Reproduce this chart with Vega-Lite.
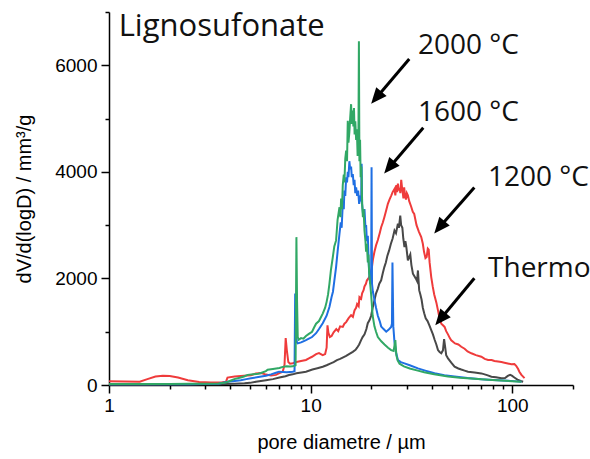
{
  "$schema": "https://vega.github.io/schema/vega-lite/v6.json",
  "width": 464,
  "height": 373,
  "autosize": "none",
  "padding": {"left": 109, "top": 12, "right": 17, "bottom": 74},
  "background": "white",
  "config": {
    "view": {"stroke": null},
    "axis": {
      "grid": false,
      "domainColor": "black",
      "tickColor": "black",
      "labelColor": "black",
      "titleColor": "black",
      "labelFont": "Liberation Sans",
      "titleFont": "Liberation Sans",
      "labelFontSize": 19,
      "titleFontSize": 20,
      "titleFontWeight": "normal",
      "domainWidth": 1.5,
      "tickWidth": 1.5
    }
  },
  "datasets": {
    "t1200": [
      {"x":1,"y":70},{"x":1.2,"y":65},{"x":1.42,"y":62},{"x":1.55,"y":110},{"x":1.7,"y":160},{"x":1.85,"y":175},{"x":2.0,"y":170},{"x":2.2,"y":140},{"x":2.46,"y":90},{"x":2.8,"y":55},{"x":3.2,"y":45},{"x":3.6,"y":48},{"x":3.8,"y":60},{"x":3.87,"y":140},{"x":4.2,"y":160},{"x":4.67,"y":175},{"x":5.06,"y":185},{"x":5.35,"y":215},{"x":5.7,"y":225},{"x":6.0,"y":195},{"x":6.36,"y":180},{"x":6.73,"y":190},{"x":7.0,"y":225},{"x":7.27,"y":250},{"x":7.42,"y":380},{"x":7.52,"y":880},{"x":7.62,"y":650},{"x":7.75,"y":430},{"x":7.9,"y":400},{"x":8.15,"y":410},{"x":8.5,"y":430},{"x":8.96,"y":450},{"x":9.48,"y":470},{"x":9.8,"y":500},{"x":10.16,"y":530},{"x":10.64,"y":580},{"x":11.0,"y":600},{"x":11.48,"y":560},{"x":11.8,"y":580},{"x":12.0,"y":700},{"x":12.12,"y":1120},{"x":12.25,"y":980},{"x":12.45,"y":900},{"x":12.7,"y":920},{"x":13.0,"y":990},{"x":13.4,"y":1050},{"x":13.7,"y":1010},{"x":14.0,"y":1100},{"x":14.43,"y":1090},{"x":14.7,"y":1150},{"x":15.0,"y":1180},{"x":15.4,"y":1250},{"x":15.87,"y":1310},{"x":16.2,"y":1280},{"x":16.5,"y":1400},{"x":16.8,"y":1450},{"x":17.0,"y":1520},{"x":17.3,"y":1480},{"x":17.46,"y":1650},{"x":17.8,"y":1620},{"x":18.0,"y":1720},{"x":18.3,"y":1780},{"x":18.49,"y":1850},{"x":18.8,"y":1900},{"x":19.0,"y":1960},{"x":19.5,"y":2020},{"x":19.95,"y":2100},{"x":20.35,"y":2350},{"x":20.72,"y":2500},{"x":21.1,"y":2620},{"x":21.54,"y":2720},{"x":22.0,"y":2850},{"x":22.37,"y":2960},{"x":22.8,"y":3050},{"x":23.2,"y":3150},{"x":23.7,"y":3280},{"x":24.15,"y":3400},{"x":24.6,"y":3480},{"x":25.07,"y":3550},{"x":25.5,"y":3620},{"x":26.05,"y":3680},{"x":26.3,"y":3560},{"x":26.6,"y":3750},{"x":26.85,"y":3620},{"x":27.08,"y":3780},{"x":27.35,"y":3650},{"x":27.6,"y":3700},{"x":27.85,"y":3600},{"x":28.13,"y":3850},{"x":28.4,"y":3700},{"x":28.6,"y":3620},{"x":28.85,"y":3500},{"x":29.09,"y":3710},{"x":29.4,"y":3550},{"x":29.7,"y":3480},{"x":30.0,"y":3600},{"x":30.35,"y":3560},{"x":30.82,"y":3450},{"x":31.5,"y":3350},{"x":32.1,"y":3250},{"x":32.63,"y":3210},{"x":33.5,"y":3000},{"x":34.4,"y":2880},{"x":35.35,"y":2775},{"x":36.0,"y":2650},{"x":36.5,"y":2500},{"x":37.1,"y":2380},{"x":37.6,"y":2400},{"x":38.1,"y":2560},{"x":38.5,"y":2540},{"x":38.9,"y":2300},{"x":39.63,"y":2026},{"x":40.3,"y":1850},{"x":41.0,"y":1700},{"x":42.0,"y":1550},{"x":42.8,"y":1400},{"x":43.6,"y":1250},{"x":44.45,"y":1150},{"x":45.3,"y":1120},{"x":46.16,"y":1090},{"x":47.0,"y":1010},{"x":47.98,"y":950},{"x":49.0,"y":880},{"x":49.8,"y":840},{"x":52.0,"y":780},{"x":54,"y":760},{"x":55.85,"y":717},{"x":58,"y":680},{"x":60,"y":630},{"x":62.66,"y":595},{"x":66,"y":560},{"x":70.22,"y":530},{"x":73,"y":490},{"x":75.84,"y":468},{"x":79,"y":470},{"x":81.5,"y":450},{"x":85,"y":440},{"x":88.3,"y":430},{"x":91.4,"y":418},{"x":95,"y":405},{"x":99,"y":390},{"x":102.4,"y":393},{"x":104.5,"y":360},{"x":106.9,"y":300},{"x":108.4,"y":250},{"x":111,"y":190},{"x":115,"y":130}
    ],
    "thermo": [
      {"x":1,"y":5},{"x":1.5,"y":5},{"x":2,"y":8},{"x":2.5,"y":10},{"x":3,"y":12},{"x":3.5,"y":15},{"x":3.8,"y":20},{"x":4.2,"y":25},{"x":4.7,"y":32},{"x":5.0,"y":40},{"x":5.35,"y":60},{"x":6.0,"y":90},{"x":6.5,"y":110},{"x":7.0,"y":140},{"x":7.5,"y":165},{"x":7.81,"y":187},{"x":8.15,"y":200},{"x":8.5,"y":220},{"x":9.0,"y":235},{"x":9.48,"y":250},{"x":10.2,"y":290},{"x":10.8,"y":315},{"x":11.48,"y":343},{"x":12.0,"y":370},{"x":12.5,"y":400},{"x":13.0,"y":430},{"x":13.5,"y":468},{"x":14.0,"y":490},{"x":14.5,"y":520},{"x":15.0,"y":545},{"x":15.5,"y":580},{"x":16.18,"y":623},{"x":16.7,"y":660},{"x":17.0,"y":700},{"x":17.4,"y":760},{"x":17.79,"y":842},{"x":18.1,"y":900},{"x":18.5,"y":950},{"x":18.9,"y":1050},{"x":19.2,"y":1160},{"x":19.6,"y":1220},{"x":19.95,"y":1300},{"x":20.3,"y":1450},{"x":20.72,"y":1590},{"x":21.1,"y":1720},{"x":21.5,"y":1800},{"x":21.9,"y":1900},{"x":22.37,"y":1965},{"x":22.8,"y":2100},{"x":23.2,"y":2213},{"x":23.6,"y":2300},{"x":24.0,"y":2420},{"x":24.5,"y":2526},{"x":25.0,"y":2650},{"x":25.5,"y":2750},{"x":26.05,"y":2900},{"x":26.5,"y":2850},{"x":27.08,"y":3025},{"x":27.4,"y":2950},{"x":27.82,"y":3180},{"x":28.1,"y":3000},{"x":28.5,"y":2950},{"x":28.8,"y":2750},{"x":29.19,"y":2590},{"x":29.5,"y":2700},{"x":29.8,"y":2600},{"x":30.35,"y":2340},{"x":30.8,"y":2400},{"x":31.2,"y":2450},{"x":31.6,"y":2250},{"x":32.15,"y":2090},{"x":32.6,"y":2050},{"x":33.2,"y":2000},{"x":33.7,"y":1950},{"x":34.05,"y":2150},{"x":34.3,"y":1950},{"x":34.53,"y":1780},{"x":35.0,"y":1700},{"x":35.5,"y":1600},{"x":36.0,"y":1450},{"x":36.57,"y":1345},{"x":37.2,"y":1250},{"x":38.0,"y":1200},{"x":38.8,"y":1120},{"x":39.63,"y":1030},{"x":40.4,"y":950},{"x":41.2,"y":850},{"x":42.0,"y":760},{"x":42.8,"y":655},{"x":43.6,"y":620},{"x":44.45,"y":595},{"x":45.3,"y":650},{"x":45.9,"y":860},{"x":46.5,"y":700},{"x":47.0,"y":560},{"x":48,"y":500},{"x":49.8,"y":420},{"x":51.73,"y":343},{"x":54,"y":310},{"x":55.85,"y":290},{"x":58,"y":270},{"x":60.3,"y":250},{"x":65,"y":235},{"x":70.22,"y":218},{"x":75,"y":185},{"x":78.78,"y":156},{"x":83,"y":145},{"x":88.31,"y":125},{"x":92,"y":130},{"x":95,"y":170},{"x":97.5,"y":190},{"x":99.5,"y":175},{"x":102.4,"y":140},{"x":106.9,"y":94},{"x":110,"y":75},{"x":113.2,"y":62}
    ],
    "t1600": [
      {"x":1,"y":12},{"x":1.5,"y":12},{"x":2,"y":14},{"x":2.5,"y":15},{"x":3,"y":18},{"x":3.5,"y":25},{"x":3.87,"y":60},{"x":4.2,"y":75},{"x":4.5,"y":90},{"x":4.8,"y":110},{"x":5.06,"y":125},{"x":5.5,"y":150},{"x":6.0,"y":175},{"x":6.36,"y":200},{"x":6.73,"y":230},{"x":6.97,"y":250},{"x":7.3,"y":245},{"x":7.6,"y":240},{"x":7.9,"y":245},{"x":8.15,"y":250},{"x":8.32,"y":260},{"x":8.38,"y":1715},{"x":8.45,"y":1000},{"x":8.55,"y":800},{"x":8.63,"y":780},{"x":8.96,"y":800},{"x":9.2,"y":820},{"x":9.48,"y":842},{"x":9.8,"y":870},{"x":10.16,"y":900},{"x":10.64,"y":972},{"x":11.0,"y":1050},{"x":11.48,"y":1160},{"x":12.0,"y":1300},{"x":12.39,"y":1465},{"x":12.7,"y":1650},{"x":12.9,"y":1750},{"x":13.1,"y":1950},{"x":13.37,"y":2213},{"x":13.6,"y":2500},{"x":13.9,"y":2840},{"x":14.1,"y":3050},{"x":14.25,"y":2950},{"x":14.43,"y":3400},{"x":14.6,"y":3300},{"x":14.7,"y":3650},{"x":14.85,"y":3550},{"x":15.0,"y":3900},{"x":15.15,"y":3800},{"x":15.28,"y":4000},{"x":15.4,"y":3900},{"x":15.56,"y":4200},{"x":15.7,"y":4050},{"x":15.87,"y":4100},{"x":16.0,"y":3900},{"x":16.18,"y":3960},{"x":16.35,"y":3750},{"x":16.5,"y":3850},{"x":16.65,"y":3600},{"x":16.81,"y":3710},{"x":17.0,"y":3550},{"x":17.2,"y":3650},{"x":17.4,"y":3400},{"x":17.6,"y":3500},{"x":17.8,"y":3450},{"x":17.9,"y":4150},{"x":18.0,"y":3400},{"x":18.2,"y":3200},{"x":18.49,"y":3300},{"x":18.7,"y":2950},{"x":18.84,"y":3000},{"x":19.0,"y":2700},{"x":19.21,"y":2800},{"x":19.4,"y":2300},{"x":19.6,"y":2000},{"x":19.8,"y":1900},{"x":19.95,"y":1950},{"x":20.05,"y":4085},{"x":20.15,"y":1900},{"x":20.35,"y":1750},{"x":20.72,"y":1600},{"x":21.1,"y":1450},{"x":21.54,"y":1300},{"x":22.0,"y":1200},{"x":22.37,"y":1100},{"x":23.0,"y":1050},{"x":23.7,"y":1000},{"x":24.4,"y":1040},{"x":25.07,"y":1090},{"x":25.3,"y":1150},{"x":25.45,"y":2300},{"x":25.7,"y":1100},{"x":26.05,"y":800},{"x":26.57,"y":600},{"x":27.08,"y":470},{"x":28,"y":430},{"x":29.19,"y":405},{"x":31,"y":370},{"x":34.05,"y":312},{"x":37,"y":270},{"x":41.18,"y":220},{"x":46,"y":185},{"x":51.73,"y":160},{"x":60,"y":130},{"x":70.22,"y":106},{"x":80,"y":95},{"x":95.33,"y":80},{"x":105,"y":68},{"x":111,"y":60}
    ],
    "t2000": [
      {"x":1,"y":20},{"x":1.5,"y":18},{"x":2,"y":20},{"x":2.5,"y":22},{"x":3,"y":25},{"x":3.5,"y":30},{"x":3.8,"y":45},{"x":4.0,"y":80},{"x":4.18,"y":110},{"x":4.5,"y":140},{"x":4.67,"y":160},{"x":4.87,"y":190},{"x":5.2,"y":200},{"x":5.5,"y":210},{"x":5.67,"y":225},{"x":6.0,"y":260},{"x":6.12,"y":285},{"x":6.5,"y":300},{"x":7.0,"y":320},{"x":7.27,"y":340},{"x":7.6,"y":350},{"x":7.9,"y":345},{"x":8.15,"y":350},{"x":8.42,"y":370},{"x":8.5,"y":2775},{"x":8.56,"y":1600},{"x":8.63,"y":900},{"x":8.73,"y":850},{"x":8.96,"y":880},{"x":9.2,"y":870},{"x":9.48,"y":920},{"x":9.8,"y":960},{"x":10.16,"y":1000},{"x":10.4,"y":1080},{"x":10.64,"y":1150},{"x":11.0,"y":1200},{"x":11.48,"y":1340},{"x":11.8,"y":1450},{"x":12.0,"y":1560},{"x":12.2,"y":1700},{"x":12.39,"y":1900},{"x":12.6,"y":2150},{"x":12.88,"y":2400},{"x":13.1,"y":2600},{"x":13.37,"y":2713},{"x":13.6,"y":3100},{"x":13.9,"y":3336},{"x":14.05,"y":3150},{"x":14.16,"y":3500},{"x":14.3,"y":3300},{"x":14.43,"y":3750},{"x":14.6,"y":3950},{"x":14.7,"y":3800},{"x":14.85,"y":4250},{"x":15.0,"y":4400},{"x":15.15,"y":4200},{"x":15.28,"y":4960},{"x":15.4,"y":4550},{"x":15.56,"y":4750},{"x":15.7,"y":5000},{"x":15.87,"y":5270},{"x":16.0,"y":4900},{"x":16.15,"y":5150},{"x":16.29,"y":4850},{"x":16.4,"y":5200},{"x":16.52,"y":4700},{"x":16.65,"y":4950},{"x":16.81,"y":4600},{"x":16.95,"y":4800},{"x":17.1,"y":4300},{"x":17.25,"y":4500},{"x":17.35,"y":6450},{"x":17.45,"y":4200},{"x":17.58,"y":4600},{"x":17.7,"y":3900},{"x":17.85,"y":4100},{"x":18.0,"y":3400},{"x":18.16,"y":3150},{"x":18.3,"y":3300},{"x":18.49,"y":2900},{"x":18.7,"y":2700},{"x":18.84,"y":2500},{"x":19.0,"y":2650},{"x":19.21,"y":2300},{"x":19.35,"y":2450},{"x":19.5,"y":2100},{"x":19.73,"y":1900},{"x":19.95,"y":1700},{"x":20.3,"y":1300},{"x":20.72,"y":1100},{"x":21.1,"y":1000},{"x":21.54,"y":900},{"x":22.4,"y":820},{"x":23.24,"y":760},{"x":24.2,"y":700},{"x":25.07,"y":655},{"x":25.8,"y":640},{"x":26.3,"y":842},{"x":26.6,"y":560},{"x":27.0,"y":460},{"x":27.6,"y":400},{"x":29.0,"y":350},{"x":31.0,"y":310},{"x":34,"y":270},{"x":36.57,"y":240},{"x":41,"y":200},{"x":47.98,"y":160},{"x":55,"y":135},{"x":65,"y":115},{"x":75.84,"y":100},{"x":88,"y":85},{"x":100,"y":70},{"x":110.9,"y":60}
    ],
    "arrows": [
      {"label":"2000 °C","x0":30.83,"y0":6118,"x1":21.49,"y1":5418,"tx":19.95,"ty":5276},
      {"label":"1600 °C","x0":36.18,"y0":4827,"x1":24.94,"y1":4111,"tx":23.15,"ty":3967},
      {"label":"1200 °C","x0":64.82,"y0":3705,"x1":44.18,"y1":2988,"tx":41.02,"ty":2844},
      {"label":"Thermo","x0":64.82,"y0":2002,"x1":44.7,"y1":1267,"tx":41.5,"ty":1123}
    ],
    "notes": [
      {"text":"2000 °C","x":34.04,"y":6212},
      {"text":"1600 °C","x":34.04,"y":4958},
      {"text":"1200 °C","x":75.8,"y":3742},
      {"text":"Thermo","x":75.8,"y":2026}
    ],
    "title": [
      {"text":"Lignosufonate","x":1.117,"y":6549}
    ]
  },
  "layer": [
    {
      "data": {"name": "t1200"},
      "mark": {"type": "line", "color": "#ef3b3b", "strokeWidth": 2},
      "encoding": {
        "x": {"field": "x", "type": "quantitative",
          "scale": {"type": "log", "domain": [1, 200], "nice": false},
          "axis": {
            "title": "pore diametre / µm",
            "values": [1,2,3,4,5,6,7,8,9,10,20,30,40,50,60,70,80,90,100,200],
            "format": "d",
            "labelExpr": "(datum.value == 1 || datum.value == 10 || datum.value == 100) ? datum.label : ''",
            "tickSize": {"condition": {"test": "datum.value == 1 || datum.value == 10 || datum.value == 100", "value": 8}, "value": 4},
            "labelPadding": 3,
            "titlePadding": 17,
            "labelFlush": false,
            "labelOverlap": false
          }},
        "y": {"field": "y", "type": "quantitative",
          "scale": {"domain": [0, 7000], "nice": false, "zero": false},
          "axis": {
            "title": "dV/d(logD) / mm³/g",
            "values": [0,1000,2000,3000,4000,5000,6000,7000],
            "format": "d",
            "labelExpr": "datum.value % 2000 === 0 ? datum.label : ''",
            "tickSize": {"condition": {"test": "datum.value % 2000 === 0", "value": 8}, "value": 4},
            "labelPadding": 4,
            "titlePadding": 20,
            "labelFlush": false,
            "labelOverlap": false
          }}
      }
    },
    {
      "data": {"name": "thermo"},
      "mark": {"type": "line", "color": "#484848", "strokeWidth": 2},
      "encoding": {
        "x": {"field": "x", "type": "quantitative", "scale": {"type": "log", "domain": [1, 200], "nice": false}},
        "y": {"field": "y", "type": "quantitative", "scale": {"domain": [0, 7000], "nice": false, "zero": false}}
      }
    },
    {
      "data": {"name": "t1600"},
      "mark": {"type": "line", "color": "#1f6fe3", "strokeWidth": 2},
      "encoding": {
        "x": {"field": "x", "type": "quantitative", "scale": {"type": "log", "domain": [1, 200], "nice": false}},
        "y": {"field": "y", "type": "quantitative", "scale": {"domain": [0, 7000], "nice": false, "zero": false}}
      }
    },
    {
      "data": {"name": "t2000"},
      "mark": {"type": "line", "color": "#31a865", "strokeWidth": 2},
      "encoding": {
        "x": {"field": "x", "type": "quantitative", "scale": {"type": "log", "domain": [1, 200], "nice": false}},
        "y": {"field": "y", "type": "quantitative", "scale": {"domain": [0, 7000], "nice": false, "zero": false}}
      }
    },
    {
      "data": {"name": "arrows"},
      "mark": {"type": "rule", "color": "black", "strokeWidth": 3},
      "encoding": {
        "x": {"field": "x0", "type": "quantitative", "scale": {"type": "log", "domain": [1, 200], "nice": false}},
        "y": {"field": "y0", "type": "quantitative", "scale": {"domain": [0, 7000], "nice": false, "zero": false}},
        "x2": {"field": "x1"},
        "y2": {"field": "y1"}
      }
    },
    {
      "data": {"name": "arrows"},
      "mark": {"type": "point", "shape": "M0,0 L-0.85,2 L0.85,2 Z", "size": 256, "angle": 220, "filled": true, "color": "black", "opacity": 1, "strokeWidth": 0},
      "encoding": {
        "x": {"field": "tx", "type": "quantitative", "scale": {"type": "log", "domain": [1, 200], "nice": false}},
        "y": {"field": "ty", "type": "quantitative", "scale": {"domain": [0, 7000], "nice": false, "zero": false}}
      }
    },
    {
      "data": {"name": "notes"},
      "mark": {"type": "text", "font": "Open Sans", "fontSize": 28, "align": "left", "baseline": "alphabetic", "color": "#111111"},
      "encoding": {
        "x": {"field": "x", "type": "quantitative", "scale": {"type": "log", "domain": [1, 200], "nice": false}},
        "y": {"field": "y", "type": "quantitative", "scale": {"domain": [0, 7000], "nice": false, "zero": false}},
        "text": {"field": "text"}
      }
    },
    {
      "data": {"name": "title"},
      "mark": {"type": "text", "font": "Open Sans", "fontSize": 31, "align": "left", "baseline": "alphabetic", "color": "#111111"},
      "encoding": {
        "x": {"field": "x", "type": "quantitative", "scale": {"type": "log", "domain": [1, 200], "nice": false}},
        "y": {"field": "y", "type": "quantitative", "scale": {"domain": [0, 7000], "nice": false, "zero": false}},
        "text": {"field": "text"}
      }
    }
  ]
}
